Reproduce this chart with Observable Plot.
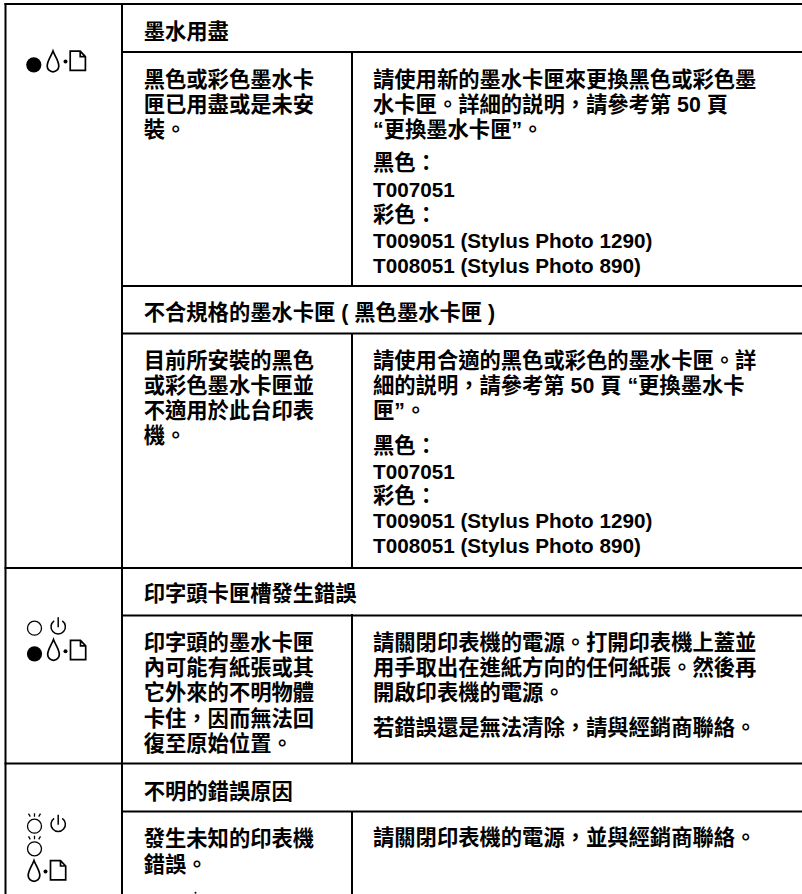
<!DOCTYPE html>
<html lang="zh-TW">
<head>
<meta charset="utf-8">
<script src="https://cdn.jsdelivr.net/npm/d3@7"></script>
<script src="https://cdn.jsdelivr.net/npm/@observablehq/plot@0.6"></script>
<style>html,body{margin:0;padding:0;background:#fff}svg{display:block}</style>
</head>
<body>
<div id="chart"></div>
<script>
// Table text
const headers = ["墨水用盡", "不合規格的墨水卡匣 ( 黑色墨水卡匣 )", "印字頭卡匣槽發生錯誤", "不明的錯誤原因"];
const headerY = [32, 313, 594, 791.5];

const causeLines = [
  "黑色或彩色墨水卡", "匣已用盡或是未安", "裝。",
  "目前所安裝的黑色", "或彩色墨水卡匣並", "不適用於此台印表", "機。",
  "印字頭的墨水卡匣", "內可能有紙張或其", "它外來的不明物體", "卡住，因而無法回", "復至原始位置。",
  "發生未知的印表機", "錯誤。"
];
const causeY = [79.3, 104.5, 129.7, 361, 386, 411, 436, 642.7, 668, 693, 718.5, 743.5, 839, 864.5];

const actionLines = [
  "請使用新的墨水卡匣來更換黑色或彩色墨", "水卡匣。詳細的説明，請參考第 50 頁", "“更換墨水卡匣”。", "黑色：", "彩色：",
  "請使用合適的黑色或彩色的墨水卡匣。詳", "細的説明，請參考第 50 頁 “更換墨水卡", "匣”。", "黑色：", "彩色：",
  "請關閉印表機的電源。打開印表機上蓋並", "用手取出在進紙方向的任何紙張。然後再", "開啟印表機的電源。", "若錯誤還是無法清除，請與經銷商聯絡。",
  "請關閉印表機的電源，並與經銷商聯絡。"
];
const actionY = [79.5, 104.5, 130, 163, 215, 361, 386, 411, 445.7, 496, 642.7, 668, 693, 728, 838];

const partLines = [
  "T007051", "T009051 (Stylus Photo 1290)", "T008051 (Stylus Photo 890)",
  "T007051", "T009051 (Stylus Photo 1290)", "T008051 (Stylus Photo 890)"
];
const partY = [190, 240.7, 266, 471.5, 520.7, 545.7];

const columnX = [143.2, 372.5];

// Table grid
const verticals = [
  [5.5, 3, 894], [122, 3, 894],
  [352, 52, 286], [352, 333, 568], [352, 614, 764], [352, 811, 894]
];
const horizontals = [
  [4, 4.5, 802], [52, 122, 802], [286, 122, 802], [333.5, 122, 802],
  [568, 4.5, 802], [615.5, 122, 802], [763.5, 4.5, 802], [811.5, 122, 802]
];

// Status light icons
const solidLights = [[33.3, 64.3], [34, 653.3]];
const clippedMark = [[195, 892.3]];
const openLights = [[34, 627.7]];
const blinkLights = [[34, 825.7], [34, 848.3]];
const powerLights = [[57.7, 626.3], [57.7, 823.8]];
const inkLights = [[52.5, 61], [53, 649.5], [33.5, 870.5]];
const joinDots = [[65, 61], [65, 650.7], [45, 871]];
const paperLights = [[77.3, 60.3], [77.6, 649.5], [57.6, 869.7]];

// Custom icon shapes
const drop = {draw(c) {
  c.moveTo(0, -10.5);
  c.bezierCurveTo(-2, -5, -5.8, -0.5, -5.8, 4.5);
  c.bezierCurveTo(-5.8, 8, -3, 10.3, 0, 10.3);
  c.bezierCurveTo(3, 10.3, 5.8, 8, 5.8, 4.5);
  c.bezierCurveTo(5.8, -0.5, 2, -5, 0, -10.5);
  c.closePath();
}};
const page = {draw(c) {
  c.moveTo(-7.6, -9.6);
  c.lineTo(2.4, -9.6);
  c.lineTo(7.6, -4.2);
  c.lineTo(7.6, 9.6);
  c.lineTo(-7.6, 9.6);
  c.closePath();
  c.moveTo(2.4, -9.6);
  c.lineTo(2.4, -4.2);
  c.lineTo(7.6, -4.2);
}};
const power = {draw(c) {
  const a = 0.6;
  c.moveTo(7.2 * Math.cos(-Math.PI / 2 + a), 7.2 * Math.sin(-Math.PI / 2 + a));
  c.arc(0, 0, 7.2, -Math.PI / 2 + a, 3 * Math.PI / 2 - a);
  c.moveTo(0, -9.5);
  c.lineTo(0, 0.5);
}};
const blink = {draw(c) {
  c.moveTo(7, 0);
  c.arc(0, 0, 7, 0, 2 * Math.PI);
  c.moveTo(0, -9.5);
  c.lineTo(0, -13);
  c.moveTo(-4.2, -9.5);
  c.lineTo(-6, -12.5);
  c.moveTo(4.2, -9.5);
  c.lineTo(6, -12.5);
}};

const textFont = "'Liberation Sans','Noto Sans CJK TC',sans-serif";
const xy = {x: d => d[0], y: d => d[1]};
const textRows = (lines, ys) => lines.map((text, i) => ({text, y: ys[i]}));
const textOpts = (x, fontSize) => ({
  x: () => x, y: "y", text: "text", textAnchor: "start", lineAnchor: "middle",
  fontSize, fontWeight: 700, fontFamily: textFont, fill: "#000"
});
const iconOpts = (symbol, strokeWidth = 1.7) => ({...xy, symbol, r: 5, fill: "none", stroke: "#000", strokeWidth});

const chart = Plot.plot({
  width: 802,
  height: 894,
  margin: 0,
  x: {domain: [0, 802], range: [0, 802], axis: null},
  y: {domain: [0, 894], range: [0, 894], axis: null},
  style: {background: "#fff"},
  marks: [
    Plot.ruleX(verticals, {x: d => d[0] - 0.5, y1: d => d[1], y2: d => d[2], stroke: "#000", strokeWidth: 2}),
    Plot.ruleY(horizontals, {y: d => d[0] - 0.5, x1: d => d[1], x2: d => d[2], stroke: "#000", strokeWidth: 2}),
    Plot.text(textRows(headers, headerY), textOpts(columnX[0], 21.3)),
    Plot.text(textRows(causeLines, causeY), textOpts(columnX[0], 21.3)),
    Plot.text(textRows(actionLines, actionY), textOpts(columnX[1], 21.3)),
    Plot.text(textRows(partLines, partY), textOpts(columnX[1], 20.7)),
    Plot.dot(solidLights, {...xy, r: 7.6, fill: "#000", stroke: "none"}),
    Plot.dot(clippedMark, {...xy, r: 1, fill: "#000", stroke: "none"}),
    Plot.dot(openLights, {...xy, r: 7, fill: "none", stroke: "#000", strokeWidth: 1.3}),
    Plot.dot(joinDots, {...xy, r: 2, fill: "#000", stroke: "none"}),
    Plot.dot(blinkLights, iconOpts(blink, 1.3)),
    Plot.dot(powerLights, iconOpts(power, 1.5)),
    Plot.dot(inkLights, iconOpts(drop)),
    Plot.dot(paperLights, iconOpts(page))
  ]
});
document.getElementById("chart").append(chart);
</script>
</body>
</html>
